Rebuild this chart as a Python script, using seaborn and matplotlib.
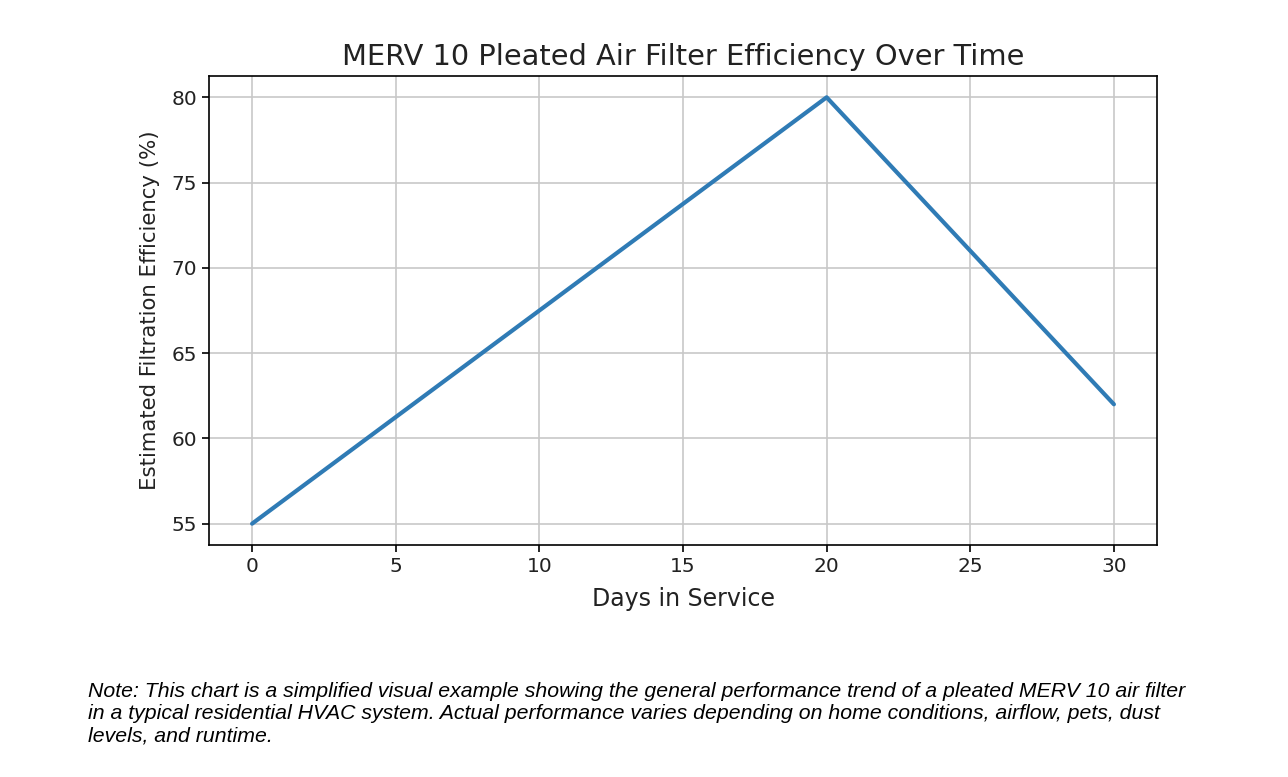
"""
MERV 10 filter efficiency chart
"""
import matplotlib
matplotlib.use('Agg')
import matplotlib.pyplot as plt
import seaborn as sns
import pandas as pd

# Data
days = [0, 20, 30]
efficiency = [55, 80, 62]
x_ticks = [0, 5, 10, 15, 20, 25, 30]
y_ticks = [55, 60, 65, 70, 75, 80]

title = 'MERV 10 Pleated Air Filter Efficiency Over Time'
x_label = 'Days in Service'
y_label = 'Estimated Filtration Efficiency (%)'
note = ('Note: This chart is a simplified visual example showing the general performance trend of a pleated MERV 10 air filter\n'
        'in a typical residential HVAC system. Actual performance varies depending on home conditions, airflow, pets, dust\n'
        'levels, and runtime.')

sns.set_style('ticks')
plt.rcParams['font.family'] = ['DejaVu Sans']
plt.rcParams['text.color'] = 'black'
plt.rcParams['axes.labelcolor'] = '#222222'

df = pd.DataFrame({'day': days, 'eff': efficiency})

fig = plt.figure(figsize=(12.88, 7.77), dpi=100)
ax = fig.add_axes([209 / 1288, 1 - 545 / 777, (1157 - 209) / 1288, (545 - 76) / 777])

sns.lineplot(data=df, x='day', y='eff', ax=ax, color='#2f7bb5', linewidth=3)

ax.set_xticks(x_ticks)
ax.set_yticks(y_ticks)
ax.set_xlim(-1.5, 31.5)
ax.set_ylim(53.75, 81.25)
ax.grid(True, color='#c8c8c8', linewidth=1.2)
ax.set_axisbelow(True)
for s in ax.spines.values():
    s.set_color('black')
    s.set_linewidth(1.2)
ax.tick_params(labelsize=14.5, length=5, width=1.2, colors='black', labelcolor='#222222')
ax.set_title(title, fontsize=20.8, pad=8, color='#222222')
ax.set_xlabel(x_label, fontsize=17, labelpad=8)
ax.set_ylabel(y_label, fontsize=15.3, labelpad=8)

fig.text(88 / 1288, 1 - 682 / 777, note, fontsize=15.3, style='italic', color='black',
         family=['Liberation Sans', 'DejaVu Sans'], va='top', ha='left', linespacing=1.2)

plt.savefig('out.png', dpi=100)
plt.close()
